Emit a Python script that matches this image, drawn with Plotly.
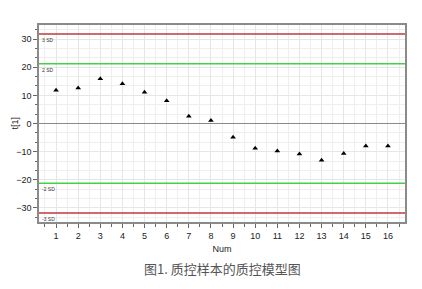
import plotly.graph_objects as go

num = list(range(1, 17))
t1 = [11.8, 12.6, 15.9, 14.1, 11.1, 8.1, 2.6, 1.1, -4.9, -8.8, -9.8, -10.8, -13.1, -10.7, -8.0, -8.0]
limit_values = [31.8, 21.2, -21.2, -31.8]
limit_labels = ["3 SD", "2 SD", "-2 SD", "-3 SD"]
limit_colors = ["#c0393b", "#44d144", "#44d144", "#c0393b"]

fig = go.Figure()
fig.add_trace(go.Scatter(x=num, y=t1, mode="markers",
                         marker=dict(symbol="triangle-up", size=5, color="black"),
                         showlegend=False))

for v, lab, c in zip(limit_values, limit_labels, limit_colors):
    fig.add_hline(y=v, line=dict(color=c, width=1.5))
    fig.add_annotation(x=0, xref="paper", y=v, yref="y", text=lab, showarrow=False,
                       xanchor="left", yanchor="top", xshift=1, yshift=-1,
                       font=dict(size=5, color="#333", family="Arial"))

fig.add_hline(y=0, line=dict(color="#8a8a8a", width=1))

fig.add_annotation(x=0.5, xref="paper", y=-0.234, yref="paper", yanchor="middle",
                   text="图1. 质控样本的质控模型图", showarrow=False,
                   font=dict(size=13, color="#555", family="Noto Sans CJK SC"))

fig.add_annotation(x=0, xref="paper", xanchor="center", xshift=-25, y=0.5, yref="paper",
                   yanchor="middle", text="t[1]", textangle=-90, showarrow=False,
                   font=dict(size=9, color="#222", family="Arial"))

fig.update_layout(
    width=422, height=289,
    margin=dict(l=39, r=17, t=25, b=67, autoexpand=False),
    paper_bgcolor="white", plot_bgcolor="white",
    font=dict(family="Arial", size=9, color="#222"),
)
fig.update_xaxes(range=[0.23, 16.77], tickvals=num, showgrid=True, gridcolor="#e6e6e6",
                 automargin=False,
                 minor=dict(dtick=0.5, tick0=0, showgrid=True, gridcolor="#eeeeee",
                            ticks="outside", ticklen=3, tickcolor="#666"),
                 ticks="outside", ticklen=4, tickcolor="#666",
                 showline=True, linecolor="#8a8a8a", linewidth=1.5, mirror=True,
                 zeroline=False,
                 title=dict(text="Num", font=dict(size=9, color="#222"), standoff=6),
                 tickfont=dict(size=9, color="#222"))
fig.update_yaxes(range=[-35, 35], dtick=10, tick0=0, showgrid=True, gridcolor="#e6e6e6",
                 automargin=False,
                 minor=dict(dtick=10/3, tick0=0, showgrid=True, gridcolor="#eeeeee",
                            ticks="outside", ticklen=2, tickcolor="#666"),
                 ticks="outside", ticklen=4, tickcolor="#666",
                 showline=True, linecolor="#8a8a8a", linewidth=1.5, mirror=True,
                 zeroline=False,
                 tickfont=dict(size=9, color="#222"))

fig.write_html("out.html")
